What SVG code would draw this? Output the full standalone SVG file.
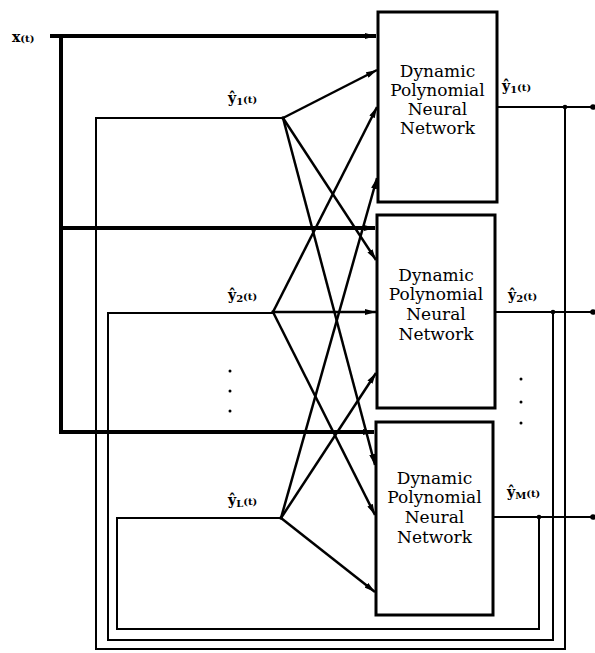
<svg xmlns="http://www.w3.org/2000/svg" width="595" height="653" viewBox="0 0 595 653">
<style>
.box{fill:#fff;stroke:#000;stroke-width:3}
.bt{font-family:"DejaVu Serif","Liberation Serif",serif;font-size:17px;text-anchor:middle;fill:#000}
.lb{font-family:"DejaVu Serif","Liberation Serif",serif;font-size:14px;font-weight:bold;fill:#000}
.sm{font-size:10px}
.x{fill:none;stroke:#000;stroke-width:4}
.f{fill:none;stroke:#000;stroke-width:2.5}
.fb{fill:none;stroke:#000;stroke-width:2}
</style>
<defs>
<marker id="ah" markerWidth="11" markerHeight="6" refX="11" refY="3" orient="auto" markerUnits="userSpaceOnUse"><path d="M0,0 L11,3 L0,6 z" fill="#000"/></marker>
</defs>
<rect width="595" height="653" fill="#fff"/>
<g id="connectors">
<path class="x" d="M50,36 H376" marker-end="url(#ah)"/>
<path class="x" d="M61,36 V432"/>
<path class="x" d="M61,228 H375" marker-end="url(#ah)"/>
<path class="x" d="M59,432 H374" marker-end="url(#ah)"/>
<path class="f" d="M283,118 L377,70" marker-end="url(#ah)"/>
<path class="f" d="M283,118 L376,260" marker-end="url(#ah)"/>
<path class="f" d="M283,118 L375,465" marker-end="url(#ah)"/>
<path class="f" d="M273,312 L377,107" marker-end="url(#ah)"/>
<path class="f" d="M273,312 L376,312" marker-end="url(#ah)"/>
<path class="f" d="M273,312 L375,515" marker-end="url(#ah)"/>
<path class="f" d="M281,518 L377,178" marker-end="url(#ah)"/>
<path class="f" d="M281,518 L376,373" marker-end="url(#ah)"/>
<path class="f" d="M281,518 L375,592" marker-end="url(#ah)"/>
<path class="fb" d="M497,107 H593"/>
<path class="fb" d="M495,312 H593"/>
<path class="fb" d="M493,517 H593"/>
<circle cx="593" cy="107" r="2.8"/>
<circle cx="593" cy="312" r="2.8"/>
<circle cx="593" cy="517" r="2.8"/>
<path class="fb" d="M565,107 V649 H96 V118 H283"/>
<path class="fb" d="M553,312 V640 H108 V313 H273"/>
<path class="fb" d="M539,517 V629 H117 V518 H281"/>
<circle cx="565" cy="107" r="2.3"/>
<circle cx="553" cy="312" r="2.3"/>
<circle cx="539" cy="517" r="2.3"/>
<circle cx="283" cy="118" r="1.8"/>
<circle cx="273" cy="312" r="1.8"/>
<circle cx="281" cy="518" r="1.8"/>
</g>
<g id="node-dpnn1">
<rect class="box" x="378" y="12" width="119" height="190"/>
<text class="bt" x="437.5" y="77">Dynamic</text>
<text class="bt" x="437.5" y="96">Polynomial</text>
<text class="bt" x="437.5" y="115">Neural</text>
<text class="bt" x="437.5" y="134">Network</text>
</g>
<g id="node-dpnn2">
<rect class="box" x="377" y="215" width="118" height="193"/>
<text class="bt" x="436" y="281">Dynamic</text>
<text class="bt" x="436" y="300">Polynomial</text>
<text class="bt" x="436" y="320">Neural</text>
<text class="bt" x="436" y="340">Network</text>
</g>
<g id="node-dpnnM">
<rect class="box" x="376" y="422" width="117" height="193"/>
<text class="bt" x="434.5" y="484">Dynamic</text>
<text class="bt" x="434.5" y="503">Polynomial</text>
<text class="bt" x="434.5" y="523">Neural</text>
<text class="bt" x="434.5" y="543">Network</text>
</g>
<g id="labels">
<text class="lb" x="12" y="42">x<tspan class="sm">(t)</tspan></text>
<text class="lb" x="228" y="103">ŷ<tspan class="sm" dy="2">1</tspan><tspan class="sm" dy="-2">(t)</tspan></text>
<text class="lb" x="228" y="300">ŷ<tspan class="sm" dy="2">2</tspan><tspan class="sm" dy="-2">(t)</tspan></text>
<text class="lb" x="228" y="505">ŷ<tspan class="sm" dy="2">L</tspan><tspan class="sm" dy="-2">(t)</tspan></text>
<text class="lb" x="502" y="91">ŷ<tspan class="sm" dy="2">1</tspan><tspan class="sm" dy="-2">(t)</tspan></text>
<text class="lb" x="508" y="300">ŷ<tspan class="sm" dy="2">2</tspan><tspan class="sm" dy="-2">(t)</tspan></text>
<text class="lb" x="507" y="497">ŷ<tspan class="sm" dy="2">M</tspan><tspan class="sm" dy="-2">(t)</tspan></text>
</g>
<g id="ellipses" fill="#000">
<circle cx="230" cy="371" r="1.5"/>
<circle cx="230" cy="391" r="1.5"/>
<circle cx="230" cy="411" r="1.5"/>
<circle cx="521" cy="379" r="1.5"/>
<circle cx="521" cy="402" r="1.5"/>
<circle cx="521" cy="423" r="1.5"/>
</g>
</svg>
